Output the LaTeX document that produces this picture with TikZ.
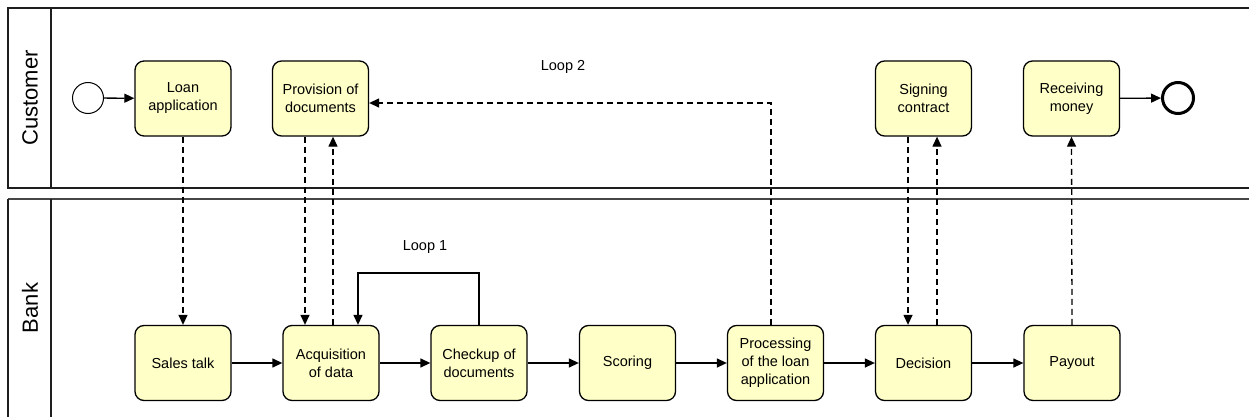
\documentclass[tikz,border=0pt]{standalone}
\usepackage{fontspec}
\setmainfont{Liberation Sans}
\usetikzlibrary{arrows.meta}
\definecolor{taskfill}{RGB}{255,255,200}
\definecolor{poolline}{RGB}{30,30,30}
\definecolor{bankline}{RGB}{70,70,70}

\begin{document}
\begin{tikzpicture}[x=1pt,y=-1pt,
  task/.style={draw, line width=1.3pt, rounded corners=9pt, fill=taskfill,
    minimum width=96pt, minimum height=75pt, align=center, inner sep=2pt,
    font=\fontsize{14.5}{18}\selectfont},
  flow/.style={line width=1.3pt, -{Triangle[length=10pt,width=9pt]}},
  msg/.style={flow, dash pattern=on 6pt off 4pt},
  lanelabel/.style={rotate=90, font=\fontsize{22}{26}\selectfont},
  looplabel/.style={font=\fontsize{14.5}{18}\selectfont},
  pool/.style={draw=poolline, line width=1.2pt}]

\useasboundingbox (0,0) rectangle (1249,417);
\clip (0,0) rectangle (1249,417);

% pools and lanes
\draw[pool] (1260,8) -- (8,8) -- (8,188) -- (1260,188);
\draw[pool] (51,8) -- (51,188);
\draw[draw=bankline, line width=2pt] (8,199) -- (1260,199);
\draw[pool] (8,199) -- (8,420);
\draw[pool] (51,199) -- (51,420);
\node[lanelabel] (lcust) at (30,98) {Customer};
\node[lanelabel] (lbank) at (30,308) {Bank};

% events
\node[draw, circle, line width=1pt, minimum size=31pt, inner sep=0pt] (start) at (88,98) {};
\node[draw, circle, line width=3pt, minimum size=31pt, inner sep=0pt] (endev) at (1178,98) {};

% customer tasks
\node[task] (loan) at (183,98.5) {Loan\\application};
\node[task] (prov) at (320.5,98.5) {Provision of\\documents};
\node[task] (sign) at (923.5,98.5) {Signing\\contract};
\node[task] (recv) at (1071.5,98.5) {Receiving\\money};

% bank tasks
\node[task] (sales) at (183,363) {Sales talk};
\node[task] (acq) at (331,363) {Acquisition\\of data};
\node[task] (chk) at (479,363) {Checkup of\\documents};
\node[task] (score) at (627.5,363) {Scoring};
\node[task] (proc) at (775.5,363) {Processing\\of the loan\\application};
\node[task] (dec) at (923.5,363) {Decision};
\node[task] (pay) at (1072,363) {Payout};

% sequence flows
\draw[flow] (start) -- (loan);
\draw[flow] (recv) -- (endev);
\draw[flow] (sales) -- (acq);
\draw[flow] (acq) -- (chk);
\draw[flow] (chk) -- (score);
\draw[flow] (score) -- (proc);
\draw[flow] (proc) -- (dec);
\draw[flow] (dec) -- (pay);

% loop 1
\coordinate (l1) at (358,273);
\draw[flow] (chk.north) |- (l1) -- (l1 |- acq.north);
\node[looplabel] (loop1) at (425,247) {Loop 1};

% message flows
\draw[msg] (loan.south) -- (sales.north);
\coordinate (x305) at (305,0);
\coordinate (x333) at (333,0);
\draw[msg] (prov.south -| x305) -- (acq.north -| x305);
\draw[msg] (acq.north -| x333) -- (prov.south -| x333);
\coordinate (x908) at (908,0);
\coordinate (x937) at (937,0);
\draw[msg] (sign.south -| x908) -- (dec.north -| x908);
\draw[msg] (dec.north -| x937) -- (sign.south -| x937);
\draw[msg] (pay.north) -- (recv.south);

% loop 2
\coordinate (l2) at (771,103);
\draw[msg] (proc.north -| l2) -- (l2) -- (prov.east |- l2);
\node[looplabel] (loop2) at (563,67) {Loop 2};
\end{tikzpicture}
\end{document}
